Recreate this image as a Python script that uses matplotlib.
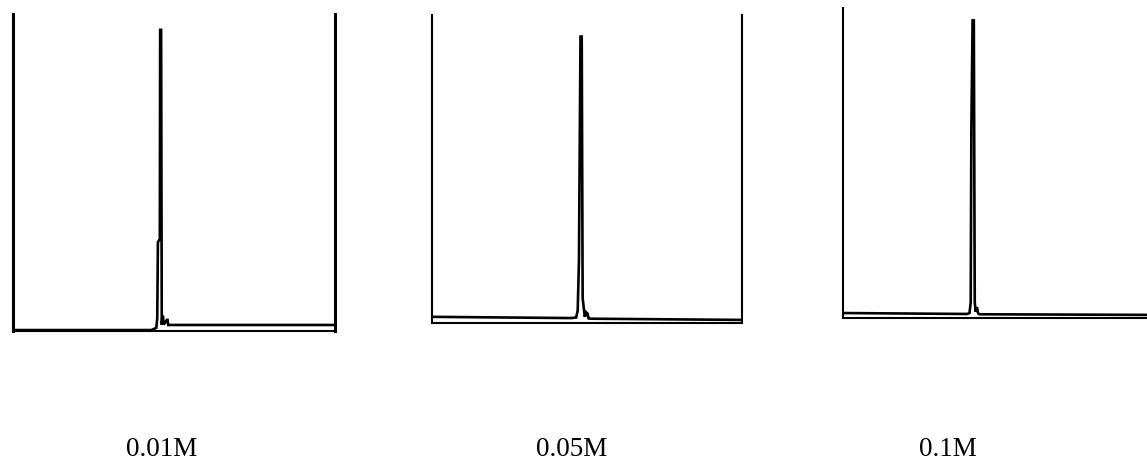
import numpy as np
import matplotlib
matplotlib.use('Agg')
import matplotlib.pyplot as plt

# chromatogram traces (time in min, signal in % of full scale)
t_001 = [0.0, 4.30, 4.45, 4.48, 4.50, 4.56, 4.57, 4.60, 4.62, 4.64, 4.66, 4.68, 4.78, 4.80, 4.82, 10.0]
s_001 = [0.3, 0.3, 1.0, 4.0, 28.0, 29.0, 95.0, 95.0, 2.0, 4.5, 4.5, 2.0, 3.5, 3.5, 1.9, 1.9]

t_005 = [0.0, 4.50, 4.65, 4.70, 4.74, 4.79, 4.83, 4.86, 4.90, 4.93, 4.97, 5.02, 5.05, 5.10, 10.0]
s_005 = [2.0, 1.6, 1.8, 4.0, 20.0, 93.0, 93.0, 8.0, 4.5, 2.0, 3.5, 3.0, 1.5, 1.4, 1.0]

t_01 = [0.0, 4.00, 4.08, 4.12, 4.14, 4.18, 4.22, 4.25, 4.28, 4.32, 4.36, 4.40, 10.0]
s_01 = [1.6, 1.3, 1.6, 5.0, 60.0, 96.0, 96.0, 5.0, 2.0, 3.5, 1.5, 1.2, 1.0]

labels = ['0.01M', '0.05M', '0.1M']

W, H = 1147, 466
fig = plt.figure(figsize=(W / 100, H / 100), dpi=100)

# panel boxes in pixels: left, top, right, bottom
boxes = [(13, 14, 335, 331), (432, 15, 742, 323), (843, 8, 1153, 318)]
traces = [(t_001, s_001), (t_005, s_005), (t_01, s_01)]
label_x = [162, 572, 948]

for (l, tp, r, b), (t, s), lab, lx in zip(boxes, traces, labels, label_x):
    ax = fig.add_axes([l / W, 1 - b / H, (r - l) / W, (b - tp) / H])
    ax.plot(t, s, color='black', lw=1.9, solid_joinstyle='miter')
    ax.set_xlim(0, 10)
    ax.set_ylim(0, 100)
    ax.set_xticks([])
    ax.set_yticks([])
    ax.spines['top'].set_visible(False)
    for side in ['left', 'right', 'bottom']:
        ax.spines[side].set_linewidth(1.5)
    ax.patch.set_alpha(0)
    fig.text(lx / W, 1 - 449 / H, lab, ha='center', va='center',
             fontsize=19.5, family='Liberation Serif')

fig.axes[0].spines['left'].set_linewidth(2.2)
fig.axes[0].spines['right'].set_linewidth(2.2)

fig.savefig('out.png', dpi=100)
